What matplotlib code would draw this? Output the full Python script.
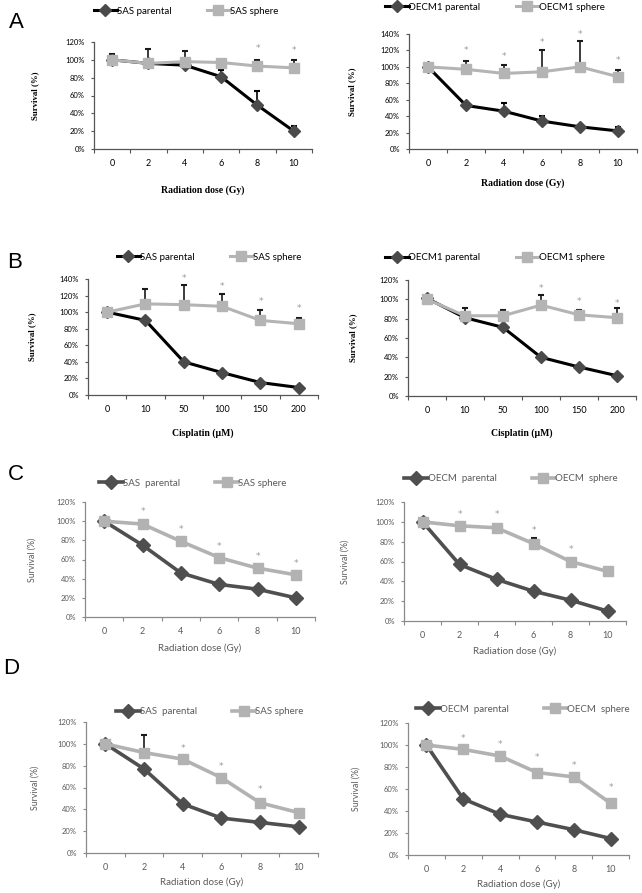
import matplotlib
matplotlib.use("Agg")
import matplotlib.pyplot as plt
import numpy as np

# ---------------- data ----------------
rad_doses = ["0", "2", "4", "6", "8", "10"]
cis_doses = ["0", "10", "50", "100", "150", "200"]
y_ticks_120 = [0, 20, 40, 60, 80, 100, 120]
y_ticks_140 = [0, 20, 40, 60, 80, 100, 120, 140]

# Panel A left: SAS radiation
a1_par = [100, 96, 94, 81, 49, 20]
a1_par_err = [0, 0, 0, 8, 16, 6]
a1_sph = [100, 96, 98, 97, 93, 91]
a1_sph_err = [7, 16, 12, 0, 7, 9]
a1_star = [None, None, None, None, 113, 110]

# Panel A right: OECM1 radiation
a2_par = [100, 53, 46, 34, 27, 22]
a2_par_err = [0, 4, 10, 6, 0, 5]
a2_sph = [100, 97, 92, 94, 100, 88]
a2_sph_err = [0, 10, 10, 26, 32, 8]
a2_star = [None, 120, 113, 130, 140, 108]

# Panel B left: SAS cisplatin
b1_par = [100, 90, 40, 27, 15, 9]
b1_par_err = [0, 0, 0, 0, 0, 0]
b1_sph = [100, 110, 109, 107, 90, 86]
b1_sph_err = [0, 18, 24, 15, 12, 7]
b1_star = [None, None, 140, 131, 113, 105]

# Panel B right: OECM1 cisplatin
b2_par = [101, 81, 71, 40, 30, 21]
b2_par_err = [0, 0, 0, 0, 0, 0]
b2_sph = [100, 83, 83, 94, 84, 81]
b2_sph_err = [0, 8, 6, 10, 5, 10]
b2_star = [None, None, None, 111, 98, 96]

# Panel C left: SAS radiation
c1_par = [100, 75, 46, 34, 29, 20]
c1_par_err = [0, 0, 0, 0, 0, 0]
c1_sph = [100, 97, 79, 62, 51, 44]
c1_sph_err = [0, 0, 0, 0, 0, 0]
c1_star = [None, 110, 91, 74, 63, 56]

# Panel C right: OECM radiation
c2_par = [100, 57, 42, 30, 21, 10]
c2_par_err = [0, 0, 0, 0, 0, 0]
c2_sph = [100, 96, 94, 78, 60, 50]
c2_sph_err = [0, 0, 0, 6, 0, 0]
c2_star = [None, 107, 107, 91, 72, None]

# Panel D left: SAS radiation
d1_par = [100, 77, 45, 32, 28, 24]
d1_par_err = [0, 0, 0, 0, 0, 0]
d1_sph = [100, 92, 86, 69, 46, 37]
d1_sph_err = [0, 16, 0, 0, 0, 0]
d1_star = [None, None, 96, 79, 58, None]

# Panel D right: OECM radiation
d2_par = [100, 51, 37, 30, 23, 15]
d2_par_err = [0, 0, 0, 0, 0, 0]
d2_sph = [100, 96, 90, 75, 71, 47]
d2_sph_err = [0, 0, 0, 0, 0, 0]
d2_star = [None, 106, 100, 89, 81, 61]

W, H = 642, 893
fig = plt.figure(figsize=(W / 100, H / 100), dpi=100)


def frac_rect(L, T, R, B):
    return [L / W, 1 - B / H, (R - L) / W, (B - T) / H]


def draw(rect, cats, par, par_err, sph, sph_err, stars, yticks, names, xlabel,
         style, ylab_x, xlab_y, leg_c):
    L, T, R, B = rect
    ax = fig.add_axes(frac_rect(L, T, R, B))
    x = np.arange(len(cats))
    if style == "old":
        par_line, par_mk = "black", "#4a4a4a"
        sph_c = "#b4b4b4"
        txt_c = "black"
        spine_c = "#555555"
        lab_font = dict(family="Liberation Serif", weight="bold")
        lw = 2.2
        pms, sms = 6.5, 7.5
    else:
        par_line, par_mk = "#4f4f4f", "#4f4f4f"
        sph_c = "#b2b2b2"
        txt_c = "#5a5a5a"
        spine_c = "#8a8a8a"
        lab_font = dict(family="Lato")
        lw = 2.6
        pms, sms = 7.5, 7.5
    tick_font = "Lato"

    # error bars (upper only)
    pe = np.array(par_err, float)
    idx = np.where(pe > 0)[0]
    if len(idx):
        ax.errorbar(x[idx], np.array(par)[idx], yerr=[np.zeros(len(idx)), pe[idx]],
                    fmt="none", ecolor="black", elinewidth=1.2, capsize=2.0,
                    capthick=1.5, zorder=1)
    se = np.array(sph_err, float)
    idx = np.where(se > 0)[0]
    if len(idx):
        ax.errorbar(x[idx], np.array(sph)[idx], yerr=[np.zeros(len(idx)), se[idx]],
                    fmt="none", ecolor="#1a1a1a", elinewidth=1.2, capsize=2.0,
                    capthick=1.5, zorder=1)

    h1, = ax.plot(x, par, color=par_line, lw=lw, marker="D", ms=pms,
                  mfc=par_mk, mec=par_mk, zorder=3)
    h2, = ax.plot(x, sph, color=sph_c, lw=lw, marker="s", ms=sms,
                  mfc=sph_c, mec=sph_c, zorder=4)

    for i, s in enumerate(stars):
        if s is not None:
            ax.text(x[i], s, "*", ha="center", va="center", color="#9a9a9a",
                    fontsize=6.5, family="DejaVu Sans", zorder=5)

    ax.set_xlim(-0.5, len(cats) - 0.5)
    ax.set_ylim(0, yticks[-1])
    ax.set_yticks(yticks)
    ax.set_yticklabels([f"{v}%" for v in yticks], family=tick_font,
                       fontsize=5.5, color=txt_c)
    ax.set_xticks(x)
    ax.set_xticklabels(cats, family=tick_font, fontsize=6.5, color=txt_c)
    ax.set_xticks(np.arange(-0.5, len(cats)), minor=True)
    ax.tick_params(axis="x", which="major", length=0, pad=7)
    ax.tick_params(axis="x", which="minor", length=3, width=0.8, color=spine_c,
                   direction="out")
    ax.tick_params(axis="y", length=2.5, width=0.8, color=spine_c, pad=4)
    for sp in ["top", "right"]:
        ax.spines[sp].set_visible(False)
    for sp in ["left", "bottom"]:
        ax.spines[sp].set_color(spine_c)
        ax.spines[sp].set_linewidth(0.9)

    ax.set_ylabel("Survival (%)", fontsize=6.3, color=txt_c, **lab_font)
    ax.yaxis.set_label_coords((ylab_x - L) / (R - L), 0.5)
    ax.yaxis.label.set_va("center")
    ax.set_xlabel(xlabel, fontsize=7, color=txt_c, **lab_font)
    ax.xaxis.set_label_coords(0.5, -(xlab_y - B) / (B - T))
    ax.xaxis.label.set_va("center")

    fig.legend(handles=[h1, h2], labels=names, loc="center",
               bbox_to_anchor=(leg_c[0] / W, 1 - leg_c[1] / H), ncol=2,
               frameon=False, handlelength=2.4, handletextpad=0.0,
               columnspacing=3.6, borderpad=0,
               prop=dict(family="Lato", size=7), labelcolor=txt_c)
    return ax


draw((94, 42, 312, 149), rad_doses, a1_par, a1_par_err, a1_sph, a1_sph_err,
     a1_star, y_ticks_120, ["SAS parental", "SAS sphere"], "Radiation dose (Gy)",
     "old", 35, 190, (186, 11))
draw((409, 34, 637, 149), rad_doses, a2_par, a2_par_err, a2_sph, a2_sph_err,
     a2_star, y_ticks_140, ["OECM1 parental", "OECM1 sphere"], "Radiation dose (Gy)",
     "old", 352, 183, (495, 7))
draw((88, 279, 318, 395), cis_doses, b1_par, b1_par_err, b1_sph, b1_sph_err,
     b1_star, y_ticks_140, ["SAS parental", "SAS sphere"], "Cisplatin (μM)",
     "old", 32, 433, (209, 257))
draw((408, 280, 636, 396), cis_doses, b2_par, b2_par_err, b2_sph, b2_sph_err,
     b2_star, y_ticks_120, ["OECM1 parental", "OECM1 sphere"], "Cisplatin (μM)",
     "old", 353, 433, (495, 258))
draw((85, 502, 315, 617), rad_doses, c1_par, c1_par_err, c1_sph, c1_sph_err,
     c1_star, y_ticks_120, ["SAS  parental", "SAS sphere"], "Radiation dose (Gy)",
     "new", 32, 648, (193, 483))
draw((404, 502, 626, 621), rad_doses, c2_par, c2_par_err, c2_sph, c2_sph_err,
     c2_star, y_ticks_120, ["OECM  parental", "OECM  sphere"], "Radiation dose (Gy)",
     "new", 345, 651, (511, 479))
draw((86, 722, 318, 853), rad_doses, d1_par, d1_par_err, d1_sph, d1_sph_err,
     d1_star, y_ticks_120, ["SAS  parental", "SAS sphere"], "Radiation dose (Gy)",
     "new", 35, 882, (210, 712))
draw((408, 723, 629, 855), rad_doses, d2_par, d2_par_err, d2_sph, d2_sph_err,
     d2_star, y_ticks_120, ["OECM  parental", "OECM  sphere"], "Radiation dose (Gy)",
     "new", 356, 884, (523, 709))

for letter, (px, py) in zip(["A", "B", "C", "D"],
                            [(16, 23), (15, 262), (16, 474), (11, 669)]):
    fig.text(px / W, 1 - py / H, letter, ha="center", va="center",
             fontsize=16, family="Liberation Sans", color="black")

fig.savefig("out.png", dpi=100, facecolor="white")
